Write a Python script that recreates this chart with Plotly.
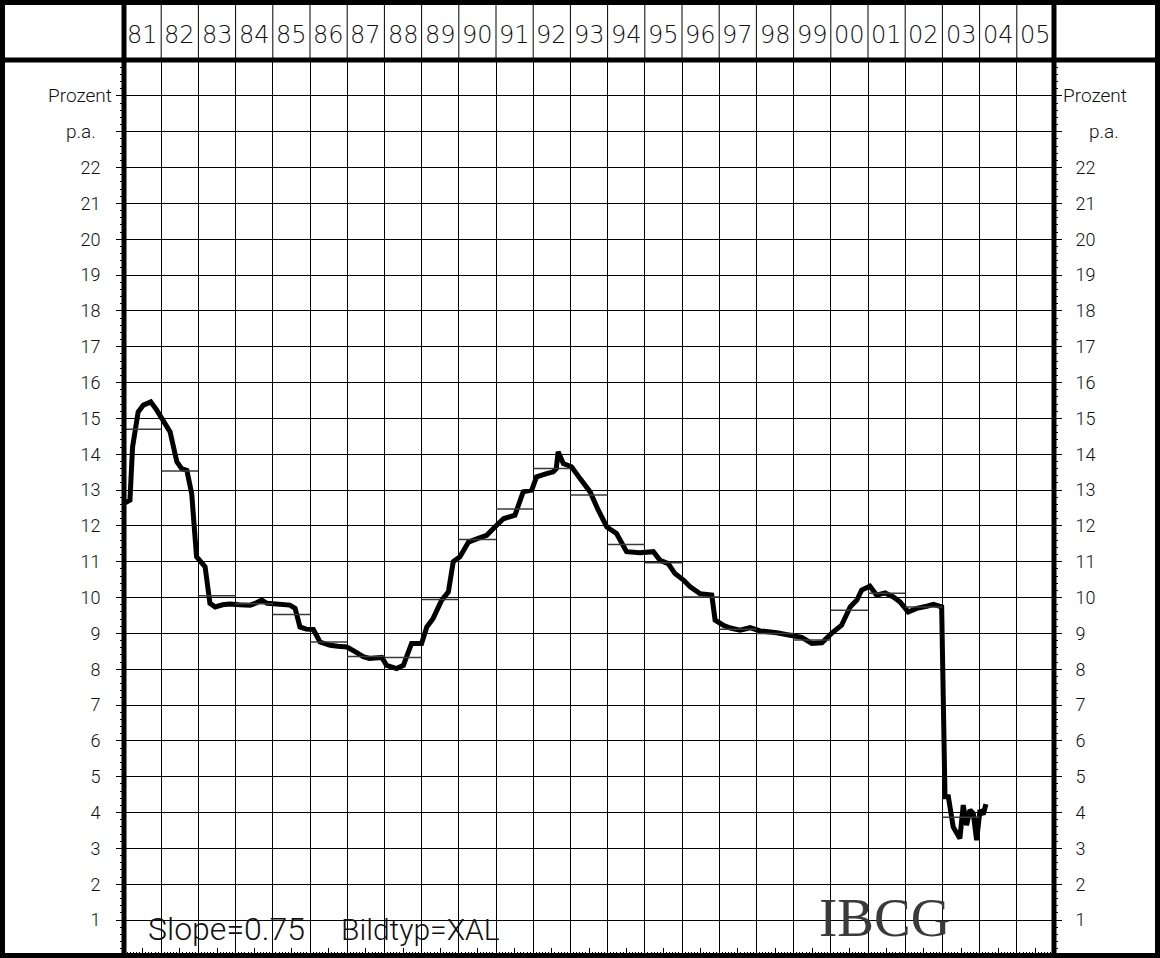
import plotly.graph_objects as go

# ---- data (decimal year, percent p.a.) ----
t = [1981.00, 1981.16, 1981.23, 1981.38, 1981.52, 1981.72, 1981.88, 1982.06, 1982.24,
     1982.42, 1982.55, 1982.69, 1982.82, 1982.95, 1983.10, 1983.18, 1983.31, 1983.45,
     1983.65, 1983.85, 1984.10, 1984.39, 1984.55, 1984.70, 1984.85, 1985.01, 1985.25,
     1985.46, 1985.60, 1985.73, 1985.90, 1986.09, 1986.27, 1986.54, 1986.75, 1986.99,
     1987.20, 1987.43, 1987.60, 1987.79, 1987.93, 1988.06, 1988.33, 1988.51, 1988.73,
     1989.00, 1989.14, 1989.31, 1989.54, 1989.72, 1989.85, 1990.03, 1990.26, 1990.52,
     1990.75, 1990.97, 1991.20, 1991.51, 1991.73, 1991.96, 1992.09, 1992.36, 1992.54,
     1992.62, 1992.67, 1992.81, 1993.03, 1993.26, 1993.53, 1993.75, 1993.98, 1994.24,
     1994.51, 1994.87, 1995.23, 1995.41, 1995.63, 1995.81, 1996.04, 1996.22, 1996.48,
     1996.80, 1996.89, 1997.11, 1997.30, 1997.56, 1997.83, 1998.10, 1998.30, 1998.55,
     1998.90, 1999.22, 1999.49, 1999.76, 2000.02, 2000.29, 2000.52, 2000.70, 2000.83,
     2001.05, 2001.23, 2001.46, 2001.68, 2001.86, 2002.08, 2002.31, 2002.58, 2002.76,
     2002.98, 2003.07, 2003.16, 2003.29, 2003.47, 2003.56, 2003.65, 2003.74, 2003.83,
     2003.92, 2004.01, 2004.10, 2004.17]
rate = [12.63, 12.72, 14.20, 15.18, 15.37, 15.46, 15.23, 14.90, 14.62,
        13.79, 13.60, 13.55, 12.90, 11.14, 10.95, 10.86, 9.84, 9.74,
        9.80, 9.82, 9.80, 9.79, 9.85, 9.93, 9.84, 9.82, 9.80,
        9.79, 9.70, 9.18, 9.12, 9.11, 8.76, 8.67, 8.64, 8.62,
        8.50, 8.35, 8.30, 8.30, 8.33, 8.11, 8.02, 8.11, 8.72,
        8.72, 9.18, 9.42, 9.93, 10.16, 11.00, 11.14, 11.55, 11.65,
        11.74, 11.97, 12.20, 12.30, 12.95, 13.00, 13.37, 13.46, 13.51,
        13.60, 14.07, 13.74, 13.65, 13.32, 12.95, 12.44, 11.97, 11.79,
        11.28, 11.25, 11.28, 11.04, 10.95, 10.67, 10.49, 10.30, 10.11,
        10.07, 9.37, 9.23, 9.15, 9.09, 9.16, 9.07, 9.05, 9.02,
        8.95, 8.89, 8.72, 8.74, 9.00, 9.23, 9.74, 9.93, 10.21,
        10.32, 10.07, 10.13, 10.02, 9.88, 9.60, 9.70, 9.76, 9.81,
        9.74, 4.44, 4.44, 3.60, 3.28, 4.21, 3.65, 4.07, 3.98,
        3.23, 4.07, 3.95, 4.24]

# annual averages (thin horizontal bars)
avg_years = list(range(1981, 2004))
avg_values = [14.70, 13.53, 10.05, 9.83, 9.53, 8.76, 8.36, 8.33, 9.95, 11.62, 12.47,
              13.60, 12.86, 11.48, 10.97, 10.02, 9.12, 9.00, 8.82, 9.65, 10.12,
              9.74, 3.87]

year_labels = [f"{y % 100:02d}" for y in range(1981, 2006)]
y_ticks = list(range(1, 23))

# ---- geometry helpers (pixel -> paper) ----
W, H = 1160, 958
PL, PR, PT, PB = 124, 1054, 60, 956
def fx(px):
    return (px - PL) / (PR - PL)
def fy(py):
    return 1 - (py - PT) / (PB - PT)

F_HEAD = dict(family="DejaVu Sans", weight=200, color="#111")
F_TICK = dict(family="Roboto", weight=300, color="#111")
F_TEXT = dict(family="Roboto", weight=300, color="#111")

fig = go.Figure()

fig.add_trace(go.Scatter(
    x=t, y=rate, mode="lines",
    line=dict(color="black", width=5),
    hoverinfo="skip", showlegend=False))

ax, ay = [], []
for yr, v in zip(avg_years, avg_values):
    ax += [yr, yr + 1, None]
    ay += [v, v, None]
fig.add_trace(go.Scatter(
    x=ax, y=ay, mode="lines", xaxis="x2", yaxis="y2",
    line=dict(color="#3a3a3a", width=1.5),
    hoverinfo="skip", showlegend=False))

shapes = []
shapes.append(dict(type="rect", xref="paper", yref="paper",
                   x0=fx(2.5), x1=fx(W - 2.5), y0=fy(H - 2.5), y1=fy(2.5),
                   line=dict(color="black", width=5)))
shapes.append(dict(type="line", xref="paper", yref="paper",
                   x0=fx(0), x1=fx(W), y0=fy(60), y1=fy(60),
                   line=dict(color="black", width=5)))
for px in (PL, PR):
    shapes.append(dict(type="line", xref="paper", yref="paper",
                       x0=fx(px), x1=fx(px), y0=fy(H), y1=fy(0),
                       line=dict(color="black", width=5)))
for yr in range(1982, 2006):
    shapes.append(dict(type="line", xref="x", yref="paper",
                       x0=yr, x1=yr, y0=1, y1=fy(4),
                       line=dict(color="black", width=1)))

annotations = []
for yr, lab in zip(range(1981, 2006), year_labels):
    annotations.append(dict(text=lab, x=yr + 1, xref="x", xanchor="right", xshift=-1,
                            y=fy(35), yref="paper", yanchor="middle", showarrow=False,
                            font=dict(size=24, **F_HEAD)))
for txt, yv, lx, rx in (("Prozent", 24, 114, 1061), ("p.a.", 23, 98, 1087)):
    annotations.append(dict(text=txt, x=fx(lx), xref="paper", xanchor="right",
                            y=yv, yref="y", yanchor="middle", showarrow=False,
                            font=dict(size=19, **F_TICK)))
    annotations.append(dict(text=txt, x=fx(rx), xref="paper", xanchor="left",
                            y=yv, yref="y", yanchor="middle", showarrow=False,
                            font=dict(size=19, **F_TICK)))
annotations.append(dict(text="Slope=0.75", x=fx(146), xref="paper", xanchor="left",
                        y=fy(929), yref="paper", yanchor="middle", showarrow=False,
                        font=dict(size=32, **F_TEXT)))
annotations.append(dict(text="Bildtyp=XAL", x=fx(339), xref="paper", xanchor="left",
                        y=fy(929), yref="paper", yanchor="middle", showarrow=False,
                        font=dict(size=30, **F_TEXT)))
annotations.append(dict(text="IBCG", x=fx(884), xref="paper", xanchor="center",
                        y=fy(917), yref="paper", yanchor="middle", showarrow=False,
                        font=dict(family="Liberation Serif, DejaVu Serif, serif",
                                  size=55, color="#3a3a3a")))

fig.update_layout(
    template="none",
    width=W, height=H,
    margin=dict(l=PL, r=W - PR, t=PT, b=H - PB, pad=0, autoexpand=False),
    paper_bgcolor="white", plot_bgcolor="white",
    showlegend=False,
    shapes=shapes, annotations=annotations,
    xaxis=dict(range=[1981, 2006], tickmode="linear", tick0=1981, dtick=1,
               showgrid=True, gridcolor="black", gridwidth=1, automargin=False,
               showticklabels=False, ticks="inside", ticklen=8, tickcolor="black",
               minor=dict(tickmode="linear", tick0=1981, dtick=1 / 12, ticks="inside",
                          ticklen=4, tickcolor="black", showgrid=False),
               zeroline=False, showline=False, fixedrange=True),
    xaxis2=dict(range=[1981, 2006], overlaying="x", anchor="y2", side="bottom",
                tickmode="linear", tick0=1981.5, dtick=1, ticks="inside", ticklen=8,
                tickcolor="black", showgrid=False, showticklabels=False, automargin=False,
                zeroline=False, showline=False, fixedrange=True),
    yaxis=dict(range=[0, 25], tickmode="array", tickvals=list(range(1, 25)),
               ticktext=[str(v) for v in y_ticks] + ["", ""],
               showgrid=True, gridcolor="black", gridwidth=1, automargin=False,
               ticks="outside", ticklen=7, tickcolor="black", ticklabelstandoff=12,
               tickfont=dict(size=18, **F_TICK),
               minor=dict(tickmode="linear", tick0=0, dtick=0.2, ticks="outside",
                          ticklen=3, tickcolor="black", showgrid=False),
               zeroline=False, showline=False, fixedrange=True),
    yaxis2=dict(range=[0, 25], overlaying="y", anchor="x", side="right",
                tickmode="array", tickvals=list(range(1, 25)),
                ticktext=[str(v) for v in y_ticks] + ["", ""],
                showgrid=False, automargin=False,
                ticks="outside", ticklen=7, tickcolor="black", ticklabelstandoff=10,
                tickfont=dict(size=18, **F_TICK),
                minor=dict(tickmode="linear", tick0=0, dtick=0.2, ticks="outside",
                           ticklen=3, tickcolor="black", showgrid=False),
                zeroline=False, showline=False, fixedrange=True),
)

fig.write_html("out.html",
               config={"displayModeBar": False},
               post_script="document.body.style.margin='0';document.body.style.overflow='hidden';")
